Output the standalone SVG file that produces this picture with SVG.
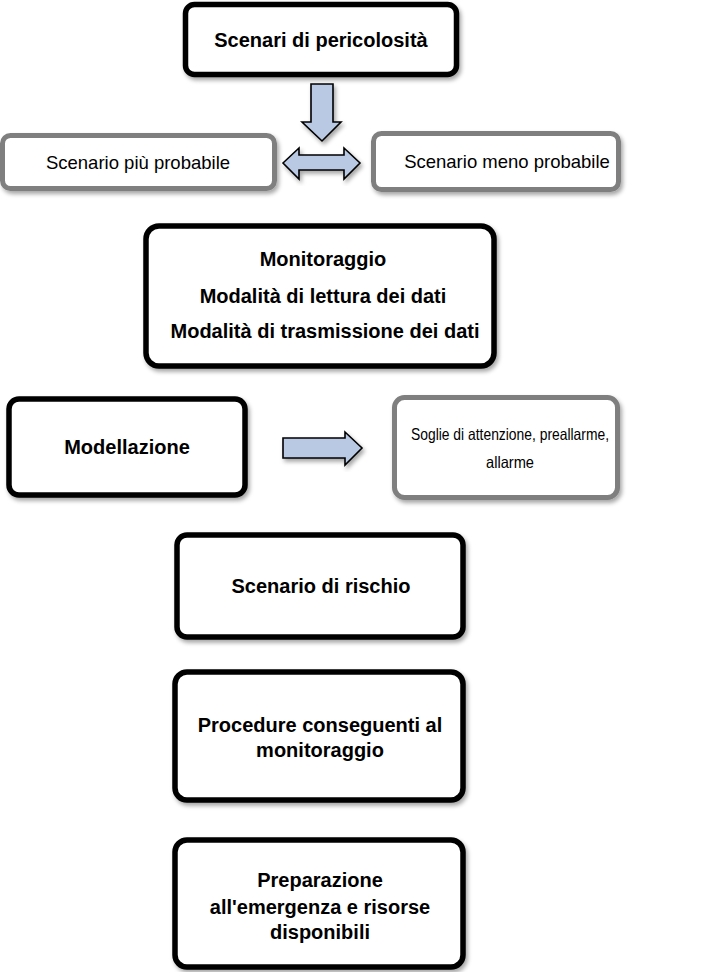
<svg xmlns="http://www.w3.org/2000/svg" width="711" height="972" viewBox="0 0 711 972">
<defs>
<filter id="sh" x="-10%" y="-10%" width="125%" height="130%">
<feDropShadow dx="2" dy="3" stdDeviation="2" flood-color="#000" flood-opacity="0.35"/>
</filter>
<style>
.blk{fill:#fff;stroke:#000;stroke-width:5.5}
.gry{fill:#fff;stroke:#7f7f7f;stroke-width:5}
.arr{fill:#b9c9e3;stroke:#000;stroke-width:1.6;stroke-linejoin:miter}
.tb{font-family:"Liberation Sans",Arial,sans-serif;font-weight:bold;font-size:20px;fill:#000;text-anchor:middle}
.tn{font-family:"Liberation Sans",Arial,sans-serif;font-size:18.5px;fill:#000;text-anchor:middle}
.ts{font-family:"Liberation Sans",Arial,sans-serif;font-size:16.5px;fill:#000;text-anchor:middle}
</style>
</defs>
<rect width="711" height="972" fill="#fff"/>
<g id="connectors">
<polygon class="arr" filter="url(#sh)" points="311,84 333,84 333,122 341,122 322,141 302,122 311,122"/>
<polygon class="arr" filter="url(#sh)" points="283,163 299,148 299,155 344,155 344,148 360,163 344,179 344,170 299,170 299,179"/>
<polygon class="arr" filter="url(#sh)" points="283,438 345,438 345,432 362,448 345,465 345,458 283,458"/>
</g>
<g id="n1">
<rect class="blk" filter="url(#sh)" x="185.5" y="4.5" width="271" height="70" rx="9"/>
<text class="tb" x="321" y="47">Scenari di pericolosità</text>
</g>
<g id="n2">
<rect class="gry" filter="url(#sh)" x="2.5" y="135.5" width="272" height="53" rx="8"/>
<text class="tn" x="138" y="169">Scenario più probabile</text>
</g>
<g id="n3">
<rect class="gry" filter="url(#sh)" x="373.5" y="133.5" width="245" height="56" rx="8"/>
<text class="tn" x="507" y="168">Scenario meno probabile</text>
</g>
<g id="n4">
<rect class="blk" filter="url(#sh)" x="146" y="226" width="348" height="140" rx="13"/>
<text class="tb" x="323" y="266">Monitoraggio</text>
<text class="tb" x="323" y="303">Modalità di lettura dei dati</text>
<text class="tb" x="325" y="338">Modalità di trasmissione dei dati</text>
</g>
<g id="n5">
<rect class="blk" filter="url(#sh)" x="9" y="399" width="236" height="96" rx="10"/>
<text class="tb" x="127" y="454">Modellazione</text>
</g>
<g id="n6">
<rect class="gry" filter="url(#sh)" x="394.5" y="397.5" width="223" height="100" rx="10"/>
<text class="ts" x="510" y="440" textLength="198" lengthAdjust="spacingAndGlyphs">Soglie di attenzione, preallarme,</text>
<text class="ts" x="510" y="468" textLength="48" lengthAdjust="spacingAndGlyphs">allarme</text>
</g>
<g id="n7">
<rect class="blk" filter="url(#sh)" x="177" y="535" width="286" height="102" rx="10"/>
<text class="tb" x="321" y="593">Scenario di rischio</text>
</g>
<g id="n8">
<rect class="blk" filter="url(#sh)" x="175" y="672" width="288" height="128" rx="12"/>
<text class="tb" x="320" y="732">Procedure conseguenti al</text>
<text class="tb" x="320" y="757">monitoraggio</text>
</g>
<g id="n9">
<rect class="blk" filter="url(#sh)" x="175" y="840" width="288" height="127" rx="12"/>
<text class="tb" x="320" y="887">Preparazione</text>
<text class="tb" x="320" y="914">all'emergenza e risorse</text>
<text class="tb" x="320" y="939">disponibili</text>
</g>
</svg>
